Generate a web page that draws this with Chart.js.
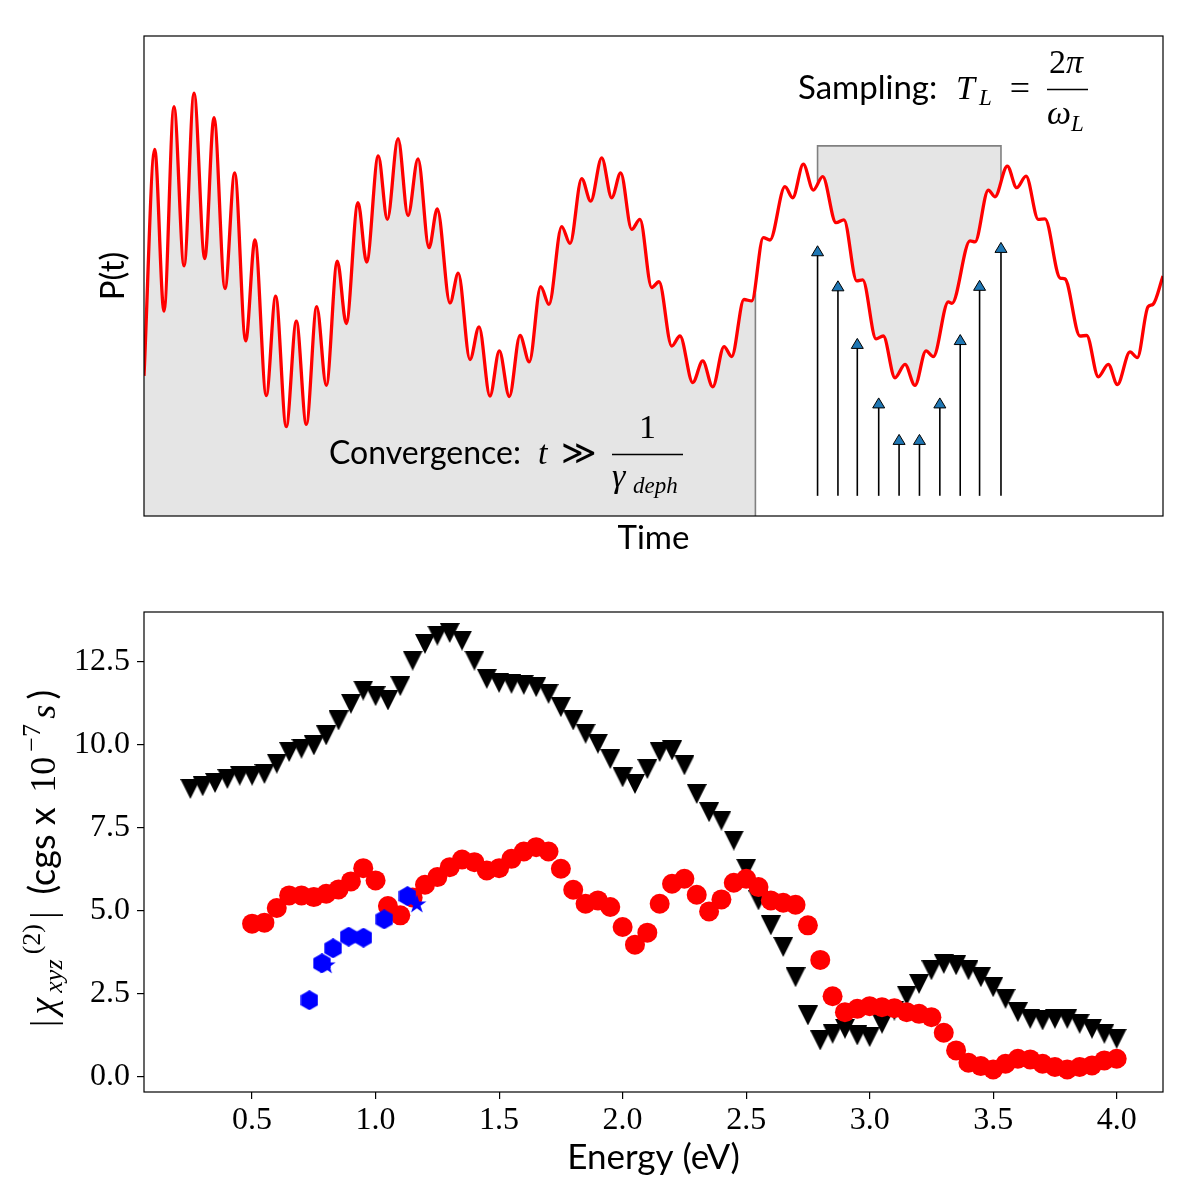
<!DOCTYPE html>
<html>
<head>
<meta charset="utf-8">
<script src="https://cdn.jsdelivr.net/npm/chart.js@4.4.1/dist/chart.umd.min.js"></script>
<style>
  html, body { margin: 0; padding: 0; background: #fff; }
  #wrap { position: relative; width: 1200px; height: 1200px; }
  .box { position: absolute; left: 0; width: 1200px; height: 600px; }
</style>
</head>
<body>
<div id="wrap">
  <div class="box" style="top:0"><canvas id="polarization-chart" width="1200" height="600"></canvas></div>
  <div class="box" style="top:600px"><canvas id="chi-chart" width="1200" height="600"></canvas></div>
</div>
<script>
// --- panneau du haut : P(t), extrema (unités arbitraires 0-100)
const timeValues = [0, 1.05, 1.96, 2.94, 3.93, 4.91, 5.96, 6.87, 7.95, 8.90, 9.98, 10.89, 12.00, 12.92, 13.96, 14.95, 15.93, 16.95, 17.89, 18.97,
  19.85, 21.00, 21.85, 22.99, 23.88, 24.93, 25.91, 26.89, 27.97, 28.78, 30.03, 30.84, 31.99, 32.88, 33.95, 34.87, 35.85, 36.90, 37.81, 38.93,
  39.74, 40.99, 41.81, 42.95, 43.84, 44.92, 45.90, 46.78, 47.86, 48.67, 49.82, 50.54, 51.79, 52.60, 53.85, 54.83, 55.81, 56.92, 57.67, 58.88,
  59.64, 60.77, 61.43, 62.90, 63.66, 64.70, 65.68, 66.60, 67.91, 68.69, 69.94, 70.53, 71.84, 72.55, 73.70, 74.68, 75.66, 76.74, 77.46, 78.93,
  79.29, 81.06, 81.55, 82.86, 83.51, 84.72, 85.64, 86.56, 87.76, 88.42, 89.89, 90.38, 91.85, 92.51, 93.65, 94.63, 95.52, 96.76, 97.48, 98.53,
  99.02, 100];
const polarization = [29.2, 76.4, 42.7, 85.3, 52.1, 88.1, 53.6, 83.0, 47.4, 71.5, 36.5, 57.5, 25.1, 45.8, 18.6, 40.6, 19.1, 43.6, 27.2, 53.1,
  40.1, 65.3, 52.9, 75.0, 61.8, 78.6, 62.6, 74.4, 55.9, 64.0, 44.4, 50.6, 32.6, 39.4, 25.0, 34.4, 24.9, 37.6, 32.1, 47.8,
  44.1, 60.3, 56.8, 70.3, 65.6, 74.6, 66.3, 71.5, 59.7, 61.8, 47.6, 48.8, 35.4, 37.5, 27.8, 32.3, 26.9, 35.3, 33.2, 45.1,
  44.8, 58.0, 57.5, 68.6, 66.3, 73.3, 67.9, 70.7, 61.1, 61.7, 49.0, 49.2, 36.9, 37.5, 28.8, 31.6, 27.2, 34.4, 33.2, 44.6,
  44.3, 57.3, 57.1, 67.9, 66.5, 72.9, 68.4, 70.8, 61.8, 61.9, 49.6, 49.4, 37.5, 37.6, 29.0, 31.6, 27.4, 34.2, 33.0, 43.6,
  44.1, 50.0];

const convergenceEnd = 60;
const samplingWindow = [66.1, 84.1];
const samplingTop = 77.1;
const sampleTimes = [66.1, 68.1, 70.0, 72.1, 74.1, 76.1, 78.1, 80.1, 82.0, 84.1];
const sampleHeights = [56.3, 49.0, 37.0, 24.6, 17.0, 17.0, 24.6, 37.8, 49.1, 57.0];
const arrowBase = 4.2;

// --- panneau du bas : |chi_xyz^(2)| en fonction de l'énergie
const energies = [0.25, 0.30, 0.35, 0.40, 0.45, 0.50, 0.55, 0.60, 0.65, 0.70, 0.75, 0.80, 0.85, 0.90, 0.95, 1.00, 1.05, 1.10, 1.15, 1.20,
  1.25, 1.30, 1.35, 1.40, 1.45, 1.50, 1.55, 1.60, 1.65, 1.70, 1.75, 1.80, 1.85, 1.90, 1.95, 2.00, 2.05, 2.10, 2.15, 2.20,
  2.25, 2.30, 2.35, 2.40, 2.45, 2.50, 2.55, 2.60, 2.65, 2.70, 2.75, 2.80, 2.85, 2.90, 2.95, 3.00, 3.05, 3.10, 3.15, 3.20,
  3.25, 3.30, 3.35, 3.40, 3.45, 3.50, 3.55, 3.60, 3.65, 3.70, 3.75, 3.80, 3.85, 3.90, 3.95, 4.00];
const chiBlack = [8.66, 8.74, 8.84, 8.96, 9.06, 9.06, 9.11, 9.42, 9.77, 9.87, 9.97, 10.27, 10.72, 11.22, 11.62, 11.45, 11.32, 11.75, 12.52, 13.02,
  13.27, 13.35, 13.12, 12.52, 11.97, 11.85, 11.82, 11.79, 11.72, 11.52, 11.12, 10.72, 10.32, 10.02, 9.56, 9.01, 8.81, 9.26, 9.77, 9.82,
  9.37, 8.51, 7.96, 7.71, 7.11, 6.26, 5.31, 4.56, 3.91, 3.00, 1.85, 1.10, 1.30, 1.45, 1.25, 1.20, 1.60, 2.00, 2.45, 2.80,
  3.21, 3.40, 3.36, 3.21, 3.00, 2.70, 2.35, 1.95, 1.75, 1.70, 1.75, 1.75, 1.60, 1.45, 1.30, 1.15];
const energiesRed = energies.slice(5);
const chiRed = [4.61, 4.64, 5.08, 5.46, 5.46, 5.41, 5.51, 5.64, 5.88, 6.28, 5.91, 5.14, 4.86, 5.40, 5.78, 6.01, 6.31, 6.54, 6.46, 6.21,
  6.28, 6.56, 6.78, 6.91, 6.78, 6.26, 5.63, 5.21, 5.31, 5.11, 4.51, 3.98, 4.34, 5.21, 5.81, 5.96, 5.48, 4.98, 5.34, 5.84,
  5.96, 5.71, 5.31, 5.24, 5.18, 4.56, 3.52, 2.43, 1.95, 2.05, 2.13, 2.10, 2.07, 1.95, 1.90, 1.80, 1.33, 0.80, 0.43, 0.33,
  0.23, 0.40, 0.55, 0.53, 0.40, 0.30, 0.23, 0.30, 0.35, 0.50, 0.55];
const energiesBlue = [0.732, 0.783, 0.828, 0.891, 0.951, 1.035, 1.129];
const chiBlue = [2.31, 3.42, 3.87, 4.22, 4.19, 4.74, 5.44];
const energiesStar = [0.80, 1.167];
const chiStar = [3.37, 5.20];

const energyTicks = [0.5, 1.0, 1.5, 2.0, 2.5, 3.0, 3.5, 4.0];
const chiTicks = [0.0, 2.5, 5.0, 7.5, 10.0, 12.5];

const SANS = 'Lato, "DejaVu Sans", sans-serif';
const SERIF = '"Liberation Serif", "DejaVu Serif", serif';

// marqueurs façon matplotlib
const makeMarker = (w, h, color, shape) => {
  const c = document.createElement("canvas");
  c.width = w;
  c.height = h;
  const g = c.getContext("2d");
  g.fillStyle = color;
  g.beginPath();
  shape(g, w, h);
  g.closePath();
  g.fill();
  return c;
};

const triangleDown = makeMarker(20, 20, "#000000", (g, w, h) => {
  g.moveTo(0, 0);
  g.lineTo(w, 0);
  g.lineTo(w / 2, h);
});

const hexagon = makeMarker(18, 20, "#0000ff", (g, w, h) => {
  for (let k = 0; k < 6; k++) {
    const a = Math.PI / 2 + (k * Math.PI) / 3;
    const px = w / 2 + 10 * Math.cos(a);
    const py = h / 2 - 10 * Math.sin(a);
    if (k === 0) g.moveTo(px, py);
    else g.lineTo(px, py);
  }
});

const star = makeMarker(20, 20, "#0000ff", (g, w, h) => {
  for (let k = 0; k < 10; k++) {
    const r = k % 2 === 0 ? 10 : 3.82;
    const a = Math.PI / 2 + (k * Math.PI) / 5;
    const px = w / 2 + r * Math.cos(a);
    const py = h / 2 - r * Math.sin(a) + 0.5;
    if (k === 0) g.moveTo(px, py);
    else g.lineTo(px, py);
  }
});

// cadre noir autour de la zone de tracé
const framePlugin = {
  id: "frame",
  afterDatasetsDraw(chart) {
    const { ctx, chartArea: a } = chart;
    ctx.save();
    ctx.strokeStyle = "#000";
    ctx.lineWidth = 1.2;
    ctx.strokeRect(a.left, a.top, a.right - a.left, a.bottom - a.top);
    ctx.restore();
  },
};

// zones grises (convergence + fenêtre d'échantillonnage) à partir de la courbe rouge
const shadePlugin = {
  id: "shade",
  beforeDatasetsDraw(chart) {
    const { ctx, chartArea: a, scales } = chart;
    const meta = chart.getDatasetMeta(0);
    const line = meta.dataset;
    line.updateControlPoints(a, "x");
    const pts = meta.data;
    const first = pts[0];
    const last = pts[pts.length - 1];
    const xc = scales.x.getPixelForValue(convergenceEnd);
    const xs0 = scales.x.getPixelForValue(samplingWindow[0]);
    const xs1 = scales.x.getPixelForValue(samplingWindow[1]);
    const yTop = scales.y.getPixelForValue(samplingTop);
    const y0 = scales.y.getPixelForValue(0);

    ctx.save();
    ctx.fillStyle = "#e5e5e5";

    ctx.save();
    ctx.beginPath();
    ctx.rect(a.left, a.top, xc - a.left, a.bottom - a.top);
    ctx.clip();
    ctx.beginPath();
    line.path(ctx);
    ctx.lineTo(last.x, y0);
    ctx.lineTo(first.x, y0);
    ctx.closePath();
    ctx.fill();
    ctx.restore();

    ctx.save();
    ctx.beginPath();
    ctx.rect(xs0, yTop, xs1 - xs0, a.bottom - yTop);
    ctx.clip();
    ctx.beginPath();
    line.path(ctx);
    ctx.lineTo(last.x, yTop);
    ctx.lineTo(first.x, yTop);
    ctx.closePath();
    ctx.fill();
    ctx.restore();

    const yAt = (px) => {
      const p = line.interpolate({ x: px }, "x");
      return p && !Array.isArray(p) ? p.y : y0;
    };
    ctx.strokeStyle = "#808080";
    ctx.lineWidth = 1.6;
    ctx.beginPath();
    ctx.moveTo(xc, y0);
    ctx.lineTo(xc, yAt(xc));
    ctx.moveTo(xs0, yAt(xs0));
    ctx.lineTo(xs0, yTop);
    ctx.lineTo(xs1, yTop);
    ctx.lineTo(xs1, yAt(xs1));
    ctx.stroke();
    ctx.restore();
  },
};

// flèches d'échantillonnage + annotations du panneau du haut
const annotatePlugin = {
  id: "annotate",
  afterDatasetsDraw(chart) {
    const { ctx, scales } = chart;
    ctx.save();
    const yb = scales.y.getPixelForValue(arrowBase);
    sampleTimes.forEach((t, i) => {
      const xp = scales.x.getPixelForValue(t);
      const yt = scales.y.getPixelForValue(sampleHeights[i]);
      ctx.strokeStyle = "#000";
      ctx.lineWidth = 1.6;
      ctx.beginPath();
      ctx.moveTo(xp, yb);
      ctx.lineTo(xp, yt + 8);
      ctx.stroke();
      ctx.beginPath();
      ctx.moveTo(xp, yt);
      ctx.lineTo(xp + 6, yt + 10);
      ctx.lineTo(xp - 6, yt + 10);
      ctx.closePath();
      ctx.fillStyle = "#1f77b4";
      ctx.fill();
      ctx.lineWidth = 1;
      ctx.stroke();
    });

    ctx.fillStyle = "#000";
    ctx.strokeStyle = "#000";
    ctx.textBaseline = "alphabetic";
    ctx.textAlign = "left";

    // Sampling: T_L = 2π / ω_L
    ctx.font = `33px ${SANS}`;
    ctx.fillText("Sampling:", 798, 99);
    ctx.font = `italic 34px ${SERIF}`;
    ctx.fillText("T", 956, 99);
    ctx.font = `italic 23px ${SERIF}`;
    ctx.fillText("L", 979, 105);
    ctx.font = `36px ${SERIF}`;
    ctx.textAlign = "center";
    ctx.fillText("=", 1020, 100);
    ctx.textAlign = "right";
    ctx.font = `34px ${SERIF}`;
    ctx.fillText("2", 1066, 73);
    ctx.textAlign = "left";
    ctx.font = `italic 34px ${SERIF}`;
    ctx.fillText("π", 1066, 73);
    ctx.fillText("ω", 1047, 124);
    ctx.font = `italic 23px ${SERIF}`;
    ctx.fillText("L", 1071, 131);
    ctx.lineWidth = 1.4;
    ctx.beginPath();
    ctx.moveTo(1047, 89.5);
    ctx.lineTo(1088, 89.5);
    ctx.stroke();

    // Convergence: t ≫ 1 / γ_deph
    ctx.font = `32px ${SANS}`;
    ctx.fillText("Convergence:", 329, 464);
    ctx.font = `italic 34px ${SERIF}`;
    ctx.fillText("t", 538, 464);
    ctx.font = `34px "DejaVu Serif", serif`;
    ctx.textAlign = "center";
    ctx.fillText("≫", 579, 464);
    ctx.font = `34px ${SERIF}`;
    ctx.fillText("1", 647.5, 438);
    ctx.textAlign = "left";
    ctx.font = `italic 34px ${SERIF}`;
    ctx.fillText("γ", 612, 487);
    ctx.font = `italic 23px ${SERIF}`;
    ctx.fillText("deph", 633, 493);
    ctx.beginPath();
    ctx.moveTo(612, 454.5);
    ctx.lineTo(683, 454.5);
    ctx.stroke();
    ctx.restore();
  },
};

// titre de l'axe y du bas (texte mixte maths / sans), étalé sur la longueur de l'original
const chiTitleParts = [
  { text: "|", font: `36px ${SERIF}` },
  { text: "χ", font: `italic 38px ${SERIF}` },
  { text: "xyz", font: `italic 26px ${SERIF}`, dy: 7 },
  { text: "(2)", font: `26px ${SERIF}`, dy: -15 },
  { text: "|", font: `36px ${SERIF}`, space: 12 },
  { text: "(cgs x ", font: `36px ${SANS}` },
  { text: "10", font: `36px ${SERIF}` },
  { text: "−7", font: `26px ${SERIF}`, dy: -15 },
  { text: "s", font: `italic 36px ${SERIF}` },
  { text: ")", font: `36px ${SANS}` },
];
const chiTitleSpan = [690, 1027];

const chiTitlePlugin = {
  id: "chiTitle",
  afterDraw(chart) {
    const { ctx } = chart;
    const top = chart.canvas.parentNode.offsetTop;
    ctx.save();
    ctx.translate(55, 0);
    ctx.rotate(-Math.PI / 2);
    ctx.fillStyle = "#000";
    ctx.textBaseline = "alphabetic";
    ctx.textAlign = "left";
    let total = 0;
    for (const p of chiTitleParts) {
      ctx.font = p.font;
      p.w = ctx.measureText(p.text).width + (p.space || 0);
      total += p.w;
    }
    const length = chiTitleSpan[1] - chiTitleSpan[0];
    const extra = Math.max(0, (length - total) / (chiTitleParts.length - 1));
    let cx = -(chiTitleSpan[1] - top);
    for (const p of chiTitleParts) {
      ctx.font = p.font;
      ctx.fillText(p.text, cx, p.dy || 0);
      cx += p.w + extra;
    }
    ctx.restore();
  },
};

new Chart(document.getElementById("polarization-chart"), {
  type: "line",
  data: {
    datasets: [
      {
        data: timeValues.map((t, i) => ({ x: t, y: polarization[i] })),
        borderColor: "#ff0000",
        borderWidth: 3.3,
        pointRadius: 0,
        cubicInterpolationMode: "monotone",
        fill: false,
      },
    ],
  },
  options: {
    responsive: false,
    animation: false,
    events: [],
    layout: { padding: { left: 94, top: 36, right: 37, bottom: 42 } },
    plugins: { legend: { display: false }, tooltip: { enabled: false } },
    scales: {
      x: {
        type: "linear",
        min: 0,
        max: 100,
        ticks: { display: false },
        grid: { display: false },
        border: { display: false },
        title: { display: true, text: "Time", color: "#000", padding: 0, font: { family: SANS, size: 33 } },
        afterFit: (scale) => { scale.height = 42; },
      },
      y: {
        type: "linear",
        min: 0,
        max: 100,
        ticks: { display: false },
        grid: { display: false },
        border: { display: false },
        title: { display: true, text: "P(t)", color: "#000", padding: 0, font: { family: SANS, size: 33 } },
        afterFit: (scale) => { scale.width = 50; },
      },
    },
  },
  plugins: [shadePlugin, annotatePlugin, framePlugin],
});

new Chart(document.getElementById("chi-chart"), {
  type: "scatter",
  data: {
    datasets: [
      { data: energiesStar.map((e, i) => ({ x: e, y: chiStar[i] })), pointStyle: star, pointRadius: 10 },
      { data: energiesBlue.map((e, i) => ({ x: e, y: chiBlue[i] })), pointStyle: hexagon, pointRadius: 10 },
      {
        data: energiesRed.map((e, i) => ({ x: e, y: chiRed[i] })),
        pointStyle: "circle",
        pointRadius: 10,
        backgroundColor: "#ff0000",
        borderWidth: 0,
      },
      { data: energies.map((e, i) => ({ x: e, y: chiBlack[i] })), pointStyle: triangleDown, pointRadius: 10 },
    ],
  },
  options: {
    responsive: false,
    animation: false,
    events: [],
    layout: { padding: { left: 0, top: 12, right: 37, bottom: 21 } },
    plugins: { legend: { display: false }, tooltip: { enabled: false } },
    scales: {
      x: {
        type: "linear",
        min: 0.0625,
        max: 4.1875,
        afterBuildTicks: (axis) => { axis.ticks = energyTicks.map((v) => ({ value: v })); },
        ticks: { color: "#000", padding: 2, font: { family: SERIF, size: 32 }, callback: (v) => Number(v).toFixed(1), maxRotation: 0 },
        grid: { drawOnChartArea: false, drawTicks: true, tickLength: 7, color: "#000", lineWidth: 1.2 },
        border: { display: false },
        title: { display: true, text: "Energy (eV)", color: "#000", padding: 0, font: { family: SANS, size: 35 } },
        afterFit: (scale) => { scale.height = 87; scale.paddingLeft = 0; scale.paddingRight = 0; },
      },
      y: {
        type: "linear",
        min: -0.45,
        max: 13.98,
        afterBuildTicks: (axis) => { axis.ticks = chiTicks.map((v) => ({ value: v })); },
        ticks: { color: "#000", padding: 7, font: { family: SERIF, size: 32 }, callback: (v) => Number(v).toFixed(1) },
        grid: { drawOnChartArea: false, drawTicks: true, tickLength: 7, color: "#000", lineWidth: 1.2 },
        border: { display: false },
        afterFit: (scale) => { scale.width = 144; scale.paddingTop = 0; scale.paddingBottom = 0; },
      },
    },
  },
  plugins: [framePlugin, chiTitlePlugin],
});
</script>
</body>
</html>
